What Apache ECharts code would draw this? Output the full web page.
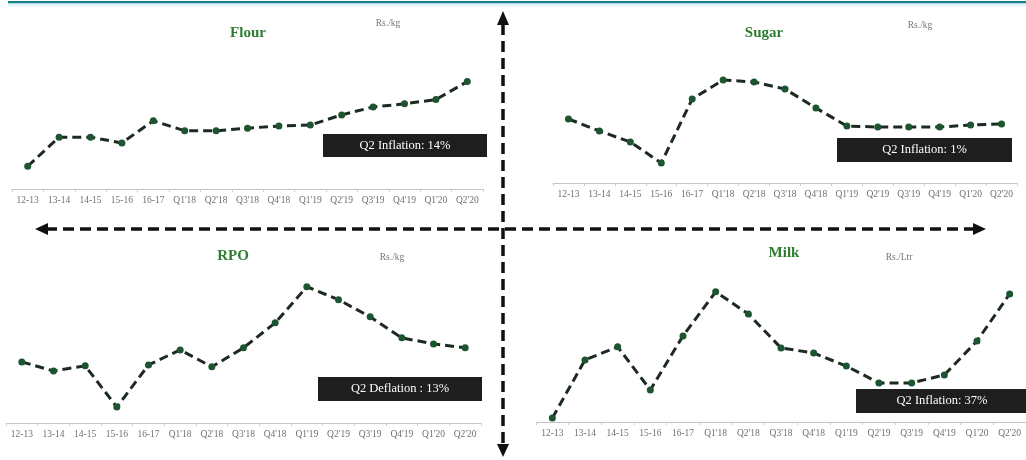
<!DOCTYPE html>
<html>
<head>
<meta charset="utf-8">
<title>Flour, Sugar, RPO and Milk prices</title>
<script src="https://cdn.jsdelivr.net/npm/echarts@6/dist/echarts.min.js"></script>
<style>
  html, body { margin: 0; padding: 0; background: #ffffff; }
  #chart { width: 1026px; height: 460px; }
</style>
</head>
<body>
<div id="chart"></div>
<script>
// Period labels shared by all four panels
const categories = ["12-13", "13-14", "14-15", "15-16", "16-17", "Q1'18", "Q2'18", "Q3'18",
  "Q4'18", "Q1'19", "Q2'19", "Q3'19", "Q4'19", "Q1'20", "Q2'20"];

// Retail prices per period
const flour = [35.3, 40.8, 40.8, 39.7, 43.9, 42.0, 42.0, 42.5, 42.9, 43.1, 45.0, 46.5, 47.1, 47.9, 51.3];
const sugar = [61.6, 59.2, 57.0, 52.8, 65.6, 69.4, 69.0, 67.6, 63.8, 60.2, 60.0, 60.0, 60.0, 60.4, 60.6];
const rpo   = [133.1, 129.2, 131.4, 113.6, 131.8, 138.3, 131.0, 139.2, 150.0, 165.6, 160.0, 152.6, 143.5, 140.9, 139.2];
const milk  = [76.9, 98.6, 103.5, 87.4, 107.6, 124.1, 115.8, 103.1, 101.2, 96.3, 90.0, 90.0, 93.0, 105.7, 123.3];

// Panel captions
const panelNames = ["Flour", "Sugar", "RPO", "Milk"];
const panelUnits = ["Rs./kg", "Rs./kg", "Rs./kg", "Rs./Ltr"];
const panelNotes = ["Q2 Inflation: 14%", "Q2 Inflation: 1%", "Q2 Deflation : 13%", "Q2 Inflation: 37%"];

const panelData = [flour, sugar, rpo, milk];

// Layout of each panel: plot area and value range
const panels = [
  { left: 12,  top: 62,  width: 471, height: 127, min: 31,    max: 55,
    title: [248, 33], unit: [388, 23], box: [323, 134, 164, 23] },
  { left: 553, top: 67,  width: 464, height: 116, min: 48.8,  max: 72,
    title: [764, 33], unit: [920, 25], box: [837, 138, 175, 24] },
  { left: 6,   top: 265, width: 475, height: 158, min: 106.7, max: 175,
    title: [233, 256], unit: [392, 257], box: [318, 377, 164, 24] },
  { left: 536, top: 276, width: 495, height: 146, min: 75.4,  max: 130,
    title: [784, 253], unit: [899, 257], box: [856, 389, 172, 24] }
];

const serif = "'Liberation Serif', 'DejaVu Serif', serif";

const grid = [], xAxis = [], yAxis = [], series = [], graphic = [];

panels.forEach((p, i) => {
  grid.push({ left: p.left, top: p.top, width: p.width, height: p.height });
  xAxis.push({
    type: 'category', gridIndex: i, data: categories, boundaryGap: true,
    axisLine: { show: true, onZero: false, lineStyle: { color: '#c4c4c4', width: 1 } },
    axisTick: { show: true, length: 3, lineStyle: { color: '#cfcfcf' } },
    axisLabel: { interval: 0, fontSize: 9.5, color: '#707070', fontFamily: serif, margin: 6, hideOverlap: false },
    splitLine: { show: false }
  });
  yAxis.push({
    type: 'value', gridIndex: i, min: p.min, max: p.max, show: false,
    splitLine: { show: false }
  });
  series.push({
    type: 'line', name: panelNames[i], xAxisIndex: i, yAxisIndex: i,
    data: panelData[i],
    symbol: 'circle', symbolSize: 7,
    itemStyle: { color: '#1d5530' },
    lineStyle: { color: '#1c2a22', width: 3, type: [9, 5] },
    z: 3
  });

  // Panel title and unit
  graphic.push({
    type: 'text', x: p.title[0], y: p.title[1],
    style: { text: panelNames[i], font: "bold 15px " + serif, fill: '#2e7d32',
             textAlign: 'center', textVerticalAlign: 'middle' }
  });
  graphic.push({
    type: 'text', x: p.unit[0], y: p.unit[1],
    style: { text: panelUnits[i], font: "9.5px " + serif, fill: '#777777',
             textAlign: 'center', textVerticalAlign: 'middle' }
  });

  // Inflation badge
  graphic.push({
    type: 'rect', shape: { x: p.box[0], y: p.box[1], width: p.box[2], height: p.box[3] },
    style: { fill: '#1e1e1e' }, z: 5
  });
  graphic.push({
    type: 'text', x: p.box[0] + p.box[2] / 2, y: p.box[1] + p.box[3] / 2, z: 6,
    style: { text: panelNotes[i], font: "12.5px " + serif, fill: '#ffffff',
             textAlign: 'center', textVerticalAlign: 'middle' }
  });
});

// Teal rule along the top edge
graphic.push({ type: 'rect', shape: { x: 8, y: 1, width: 1020, height: 2.5 }, style: { fill: '#17808c' }, z: 1 });
graphic.push({ type: 'rect', shape: { x: 8, y: 3.5, width: 1020, height: 3 }, style: { fill: '#dff4f8' }, z: 1 });

// Quadrant arrows: dashed cross with arrowheads
const dash = { stroke: '#111111', lineWidth: 3.5, lineDash: [11, 6] };
graphic.push({ type: 'line', shape: { x1: 46, y1: 229, x2: 975, y2: 229 }, style: dash, z: 4 });
graphic.push({ type: 'line', shape: { x1: 503, y1: 24, x2: 503, y2: 446 }, style: dash, z: 4 });
graphic.push({ type: 'polygon', shape: { points: [[35, 229], [48, 223], [48, 235]] }, style: { fill: '#111' }, z: 4 });
graphic.push({ type: 'polygon', shape: { points: [[986, 229], [973, 223], [973, 235]] }, style: { fill: '#111' }, z: 4 });
graphic.push({ type: 'polygon', shape: { points: [[503, 11], [497, 25], [509, 25]] }, style: { fill: '#111' }, z: 4 });
graphic.push({ type: 'polygon', shape: { points: [[503, 457], [497, 444], [509, 444]] }, style: { fill: '#111' }, z: 4 });

const chart = echarts.init(document.getElementById('chart'), null, { renderer: 'canvas' });
chart.setOption({
  backgroundColor: '#ffffff',
  animation: false,
  grid: grid,
  xAxis: xAxis,
  yAxis: yAxis,
  series: series,
  graphic: graphic
});
</script>
</body>
</html>
